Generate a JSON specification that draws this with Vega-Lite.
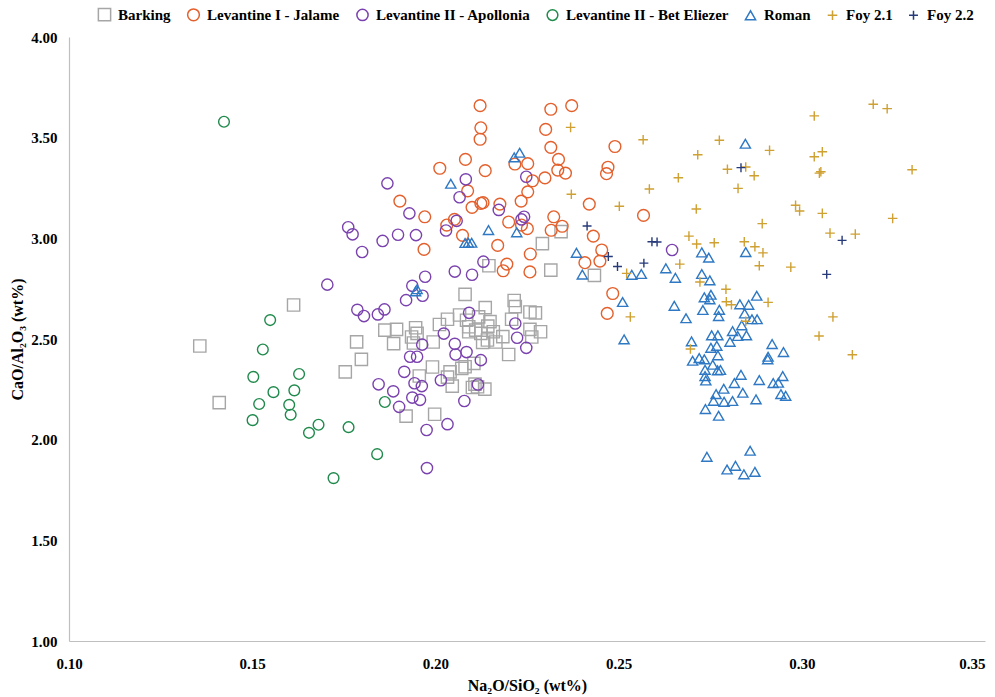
{
  "$schema": "https://vega.github.io/schema/vega-lite/v6.json",
  "width": 916,
  "height": 604,
  "autosize": {"type": "none"},
  "padding": {"left": 69, "top": 37, "right": 10, "bottom": 56},
  "background": "white",
  "config": {
    "view": {"stroke": null},
    "font": "Liberation Serif",
    "axis": {"grid": false, "ticks": false, "domainColor": "#BFBFBF", "domainWidth": 1.2, "labelFont": "Liberation Serif", "labelFontWeight": "bold", "labelFontSize": 15, "labelColor": "#000000", "titleFont": "Liberation Serif", "titleFontWeight": "bold", "titleFontSize": 16, "titleColor": "#000000"}
  },
  "data": {"values": [
    {"g":"Barking","x":0.1357,"y":2.465},{"g":"Barking","x":0.1410,"y":2.184},{"g":"Barking","x":0.1613,"y":2.669},{"g":"Barking","x":0.1754,"y":2.337},{"g":"Barking","x":0.1798,"y":2.399},{"g":"Barking","x":0.1785,"y":2.486},{"g":"Barking","x":0.1862,"y":2.544},{"g":"Barking","x":0.1894,"y":2.548},{"g":"Barking","x":0.1886,"y":2.477},{"g":"Barking","x":0.1946,"y":2.556},{"g":"Barking","x":0.1950,"y":2.528},{"g":"Barking","x":0.1935,"y":2.510},{"g":"Barking","x":0.1940,"y":2.480},{"g":"Barking","x":0.1994,"y":2.485},{"g":"Barking","x":0.2011,"y":2.572},{"g":"Barking","x":0.2033,"y":2.598},{"g":"Barking","x":0.2066,"y":2.619},{"g":"Barking","x":0.2081,"y":2.722},{"g":"Barking","x":0.2085,"y":2.593},{"g":"Barking","x":0.2091,"y":2.561},{"g":"Barking","x":0.2091,"y":2.536},{"g":"Barking","x":0.2110,"y":2.544},{"g":"Barking","x":0.2118,"y":2.610},{"g":"Barking","x":0.2124,"y":2.528},{"g":"Barking","x":0.2129,"y":2.483},{"g":"Barking","x":0.2136,"y":2.656},{"g":"Barking","x":0.2142,"y":2.495},{"g":"Barking","x":0.2143,"y":2.564},{"g":"Barking","x":0.2149,"y":2.586},{"g":"Barking","x":0.2158,"y":2.536},{"g":"Barking","x":0.2165,"y":2.485},{"g":"Barking","x":0.2184,"y":2.512},{"g":"Barking","x":0.2208,"y":2.598},{"g":"Barking","x":0.2215,"y":2.691},{"g":"Barking","x":0.2218,"y":2.661},{"g":"Barking","x":0.2258,"y":2.634},{"g":"Barking","x":0.2273,"y":2.630},{"g":"Barking","x":0.2258,"y":2.548},{"g":"Barking","x":0.2287,"y":2.536},{"g":"Barking","x":0.2263,"y":2.510},{"g":"Barking","x":0.2200,"y":2.423},{"g":"Barking","x":0.1992,"y":2.361},{"g":"Barking","x":0.1956,"y":2.316},{"g":"Barking","x":0.2040,"y":2.337},{"g":"Barking","x":0.2033,"y":2.311},{"g":"Barking","x":0.2072,"y":2.354},{"g":"Barking","x":0.2081,"y":2.362},{"g":"Barking","x":0.2105,"y":2.379},{"g":"Barking","x":0.2046,"y":2.266},{"g":"Barking","x":0.2108,"y":2.276},{"g":"Barking","x":0.2115,"y":2.263},{"g":"Barking","x":0.2135,"y":2.251},{"g":"Barking","x":0.2101,"y":2.259},{"g":"Barking","x":0.1920,"y":2.117},{"g":"Barking","x":0.1998,"y":2.126},{"g":"Barking","x":0.2146,"y":2.864},{"g":"Barking","x":0.2292,"y":2.974},{"g":"Barking","x":0.2315,"y":2.842},{"g":"Barking","x":0.2343,"y":3.033},{"g":"Barking","x":0.2434,"y":2.816},
    {"g":"Levantine I - Jalame","x":0.2122,"y":3.659},{"g":"Levantine I - Jalame","x":0.2315,"y":3.641},{"g":"Levantine I - Jalame","x":0.2372,"y":3.659},{"g":"Levantine I - Jalame","x":0.2124,"y":3.549},{"g":"Levantine I - Jalame","x":0.2122,"y":3.492},{"g":"Levantine I - Jalame","x":0.2301,"y":3.541},{"g":"Levantine I - Jalame","x":0.2315,"y":3.452},{"g":"Levantine I - Jalame","x":0.2490,"y":3.456},{"g":"Levantine I - Jalame","x":0.2082,"y":3.392},{"g":"Levantine I - Jalame","x":0.2012,"y":3.348},{"g":"Levantine I - Jalame","x":0.2217,"y":3.369},{"g":"Levantine I - Jalame","x":0.2252,"y":3.371},{"g":"Levantine I - Jalame","x":0.2336,"y":3.392},{"g":"Levantine I - Jalame","x":0.2334,"y":3.339},{"g":"Levantine I - Jalame","x":0.2355,"y":3.324},{"g":"Levantine I - Jalame","x":0.2136,"y":3.336},{"g":"Levantine I - Jalame","x":0.2299,"y":3.300},{"g":"Levantine I - Jalame","x":0.2265,"y":3.286},{"g":"Levantine I - Jalame","x":0.2471,"y":3.353},{"g":"Levantine I - Jalame","x":0.2467,"y":3.321},{"g":"Levantine I - Jalame","x":0.2252,"y":3.231},{"g":"Levantine I - Jalame","x":0.2088,"y":3.236},{"g":"Levantine I - Jalame","x":0.1903,"y":3.185},{"g":"Levantine I - Jalame","x":0.2234,"y":3.185},{"g":"Levantine I - Jalame","x":0.2130,"y":3.177},{"g":"Levantine I - Jalame","x":0.2124,"y":3.174},{"g":"Levantine I - Jalame","x":0.2176,"y":3.170},{"g":"Levantine I - Jalame","x":0.2100,"y":3.154},{"g":"Levantine I - Jalame","x":0.2420,"y":3.170},{"g":"Levantine I - Jalame","x":0.1971,"y":3.107},{"g":"Levantine I - Jalame","x":0.2323,"y":3.107},{"g":"Levantine I - Jalame","x":0.2052,"y":3.094},{"g":"Levantine I - Jalame","x":0.2031,"y":3.066},{"g":"Levantine I - Jalame","x":0.2200,"y":3.081},{"g":"Levantine I - Jalame","x":0.2235,"y":3.066},{"g":"Levantine I - Jalame","x":0.2251,"y":3.048},{"g":"Levantine I - Jalame","x":0.2316,"y":3.040},{"g":"Levantine I - Jalame","x":0.2346,"y":3.060},{"g":"Levantine I - Jalame","x":0.2074,"y":3.015},{"g":"Levantine I - Jalame","x":0.2431,"y":3.011},{"g":"Levantine I - Jalame","x":0.1969,"y":2.945},{"g":"Levantine I - Jalame","x":0.2170,"y":2.965},{"g":"Levantine I - Jalame","x":0.2259,"y":2.922},{"g":"Levantine I - Jalame","x":0.2454,"y":2.942},{"g":"Levantine I - Jalame","x":0.2449,"y":2.887},{"g":"Levantine I - Jalame","x":0.2408,"y":2.879},{"g":"Levantine I - Jalame","x":0.2195,"y":2.872},{"g":"Levantine I - Jalame","x":0.2185,"y":2.839},{"g":"Levantine I - Jalame","x":0.2258,"y":2.833},{"g":"Levantine I - Jalame","x":0.2484,"y":2.726},{"g":"Levantine I - Jalame","x":0.2469,"y":2.627},{"g":"Levantine I - Jalame","x":0.2568,"y":3.114},
    {"g":"Levantine II - Apollonia","x":0.1869,"y":3.273},{"g":"Levantine II - Apollonia","x":0.2083,"y":3.293},{"g":"Levantine II - Apollonia","x":0.2066,"y":3.204},{"g":"Levantine II - Apollonia","x":0.2248,"y":3.306},{"g":"Levantine II - Apollonia","x":0.1929,"y":3.124},{"g":"Levantine II - Apollonia","x":0.2173,"y":3.141},{"g":"Levantine II - Apollonia","x":0.2058,"y":3.087},{"g":"Levantine II - Apollonia","x":0.2029,"y":3.039},{"g":"Levantine II - Apollonia","x":0.2242,"y":3.107},{"g":"Levantine II - Apollonia","x":0.2235,"y":3.094},{"g":"Levantine II - Apollonia","x":0.1762,"y":3.055},{"g":"Levantine II - Apollonia","x":0.1774,"y":3.020},{"g":"Levantine II - Apollonia","x":0.1898,"y":3.018},{"g":"Levantine II - Apollonia","x":0.1947,"y":3.016},{"g":"Levantine II - Apollonia","x":0.1856,"y":2.987},{"g":"Levantine II - Apollonia","x":0.1800,"y":2.932},{"g":"Levantine II - Apollonia","x":0.2131,"y":2.884},{"g":"Levantine II - Apollonia","x":0.2053,"y":2.835},{"g":"Levantine II - Apollonia","x":0.2100,"y":2.819},{"g":"Levantine II - Apollonia","x":0.1972,"y":2.809},{"g":"Levantine II - Apollonia","x":0.1937,"y":2.764},{"g":"Levantine II - Apollonia","x":0.1965,"y":2.715},{"g":"Levantine II - Apollonia","x":0.1920,"y":2.693},{"g":"Levantine II - Apollonia","x":0.1705,"y":2.770},{"g":"Levantine II - Apollonia","x":0.1787,"y":2.645},{"g":"Levantine II - Apollonia","x":0.1805,"y":2.614},{"g":"Levantine II - Apollonia","x":0.1861,"y":2.647},{"g":"Levantine II - Apollonia","x":0.1843,"y":2.622},{"g":"Levantine II - Apollonia","x":0.2092,"y":2.630},{"g":"Levantine II - Apollonia","x":0.2023,"y":2.527},{"g":"Levantine II - Apollonia","x":0.1964,"y":2.472},{"g":"Levantine II - Apollonia","x":0.2053,"y":2.476},{"g":"Levantine II - Apollonia","x":0.2055,"y":2.423},{"g":"Levantine II - Apollonia","x":0.2085,"y":2.435},{"g":"Levantine II - Apollonia","x":0.2218,"y":2.577},{"g":"Levantine II - Apollonia","x":0.2223,"y":2.506},{"g":"Levantine II - Apollonia","x":0.2248,"y":2.456},{"g":"Levantine II - Apollonia","x":0.1931,"y":2.412},{"g":"Levantine II - Apollonia","x":0.1950,"y":2.412},{"g":"Levantine II - Apollonia","x":0.2124,"y":2.395},{"g":"Levantine II - Apollonia","x":0.1915,"y":2.337},{"g":"Levantine II - Apollonia","x":0.2015,"y":2.295},{"g":"Levantine II - Apollonia","x":0.1943,"y":2.280},{"g":"Levantine II - Apollonia","x":0.1963,"y":2.266},{"g":"Levantine II - Apollonia","x":0.1845,"y":2.275},{"g":"Levantine II - Apollonia","x":0.1885,"y":2.240},{"g":"Levantine II - Apollonia","x":0.2116,"y":2.274},{"g":"Levantine II - Apollonia","x":0.1937,"y":2.209},{"g":"Levantine II - Apollonia","x":0.1958,"y":2.198},{"g":"Levantine II - Apollonia","x":0.1901,"y":2.163},{"g":"Levantine II - Apollonia","x":0.2079,"y":2.192},{"g":"Levantine II - Apollonia","x":0.1976,"y":2.048},{"g":"Levantine II - Apollonia","x":0.2033,"y":2.077},{"g":"Levantine II - Apollonia","x":0.2646,"y":2.942},{"g":"Levantine II - Apollonia","x":0.1977,"y":1.859},
    {"g":"Levantine II - Bet Eliezer","x":0.1423,"y":3.579},{"g":"Levantine II - Bet Eliezer","x":0.1549,"y":2.594},{"g":"Levantine II - Bet Eliezer","x":0.1529,"y":2.448},{"g":"Levantine II - Bet Eliezer","x":0.1503,"y":2.312},{"g":"Levantine II - Bet Eliezer","x":0.1628,"y":2.326},{"g":"Levantine II - Bet Eliezer","x":0.1558,"y":2.236},{"g":"Levantine II - Bet Eliezer","x":0.1615,"y":2.245},{"g":"Levantine II - Bet Eliezer","x":0.1519,"y":2.177},{"g":"Levantine II - Bet Eliezer","x":0.1601,"y":2.173},{"g":"Levantine II - Bet Eliezer","x":0.1605,"y":2.124},{"g":"Levantine II - Bet Eliezer","x":0.1501,"y":2.097},{"g":"Levantine II - Bet Eliezer","x":0.1681,"y":2.074},{"g":"Levantine II - Bet Eliezer","x":0.1655,"y":2.034},{"g":"Levantine II - Bet Eliezer","x":0.1722,"y":1.809},{"g":"Levantine II - Bet Eliezer","x":0.1763,"y":2.062},{"g":"Levantine II - Bet Eliezer","x":0.1841,"y":1.928},{"g":"Levantine II - Bet Eliezer","x":0.1862,"y":2.187},
    {"g":"Roman","x":0.2215,"y":3.402},{"g":"Roman","x":0.2230,"y":3.425},{"g":"Roman","x":0.2042,"y":3.271},{"g":"Roman","x":0.2145,"y":3.041},{"g":"Roman","x":0.2222,"y":3.030},{"g":"Roman","x":0.2081,"y":2.977},{"g":"Roman","x":0.2090,"y":2.978},{"g":"Roman","x":0.2099,"y":2.978},{"g":"Roman","x":0.2385,"y":2.928},{"g":"Roman","x":0.2401,"y":2.820},{"g":"Roman","x":0.2511,"y":2.684},{"g":"Roman","x":0.1950,"y":2.747},{"g":"Roman","x":0.1946,"y":2.737},{"g":"Roman","x":0.2846,"y":3.470},{"g":"Roman","x":0.2536,"y":2.819},{"g":"Roman","x":0.2562,"y":2.823},{"g":"Roman","x":0.2629,"y":2.851},{"g":"Roman","x":0.2655,"y":2.804},{"g":"Roman","x":0.2727,"y":2.930},{"g":"Roman","x":0.2746,"y":2.904},{"g":"Roman","x":0.2847,"y":2.932},{"g":"Roman","x":0.2727,"y":2.823},{"g":"Roman","x":0.2749,"y":2.791},{"g":"Roman","x":0.2652,"y":2.665},{"g":"Roman","x":0.2684,"y":2.603},{"g":"Roman","x":0.2515,"y":2.498},{"g":"Roman","x":0.2877,"y":2.715},{"g":"Roman","x":0.2734,"y":2.707},{"g":"Roman","x":0.2752,"y":2.720},{"g":"Roman","x":0.2749,"y":2.697},{"g":"Roman","x":0.2730,"y":2.644},{"g":"Roman","x":0.2775,"y":2.645},{"g":"Roman","x":0.2773,"y":2.614},{"g":"Roman","x":0.2831,"y":2.672},{"g":"Roman","x":0.2855,"y":2.670},{"g":"Roman","x":0.2844,"y":2.627},{"g":"Roman","x":0.2864,"y":2.598},{"g":"Roman","x":0.2878,"y":2.598},{"g":"Roman","x":0.2836,"y":2.568},{"g":"Roman","x":0.2811,"y":2.539},{"g":"Roman","x":0.2825,"y":2.515},{"g":"Roman","x":0.2849,"y":2.518},{"g":"Roman","x":0.2804,"y":2.486},{"g":"Roman","x":0.2754,"y":2.518},{"g":"Roman","x":0.2771,"y":2.518},{"g":"Roman","x":0.2699,"y":2.488},{"g":"Roman","x":0.2752,"y":2.456},{"g":"Roman","x":0.2768,"y":2.466},{"g":"Roman","x":0.2771,"y":2.419},{"g":"Roman","x":0.2720,"y":2.405},{"g":"Roman","x":0.2734,"y":2.399},{"g":"Roman","x":0.2702,"y":2.392},{"g":"Roman","x":0.2757,"y":2.372},{"g":"Roman","x":0.2736,"y":2.347},{"g":"Roman","x":0.2770,"y":2.344},{"g":"Roman","x":0.2778,"y":2.346},{"g":"Roman","x":0.2736,"y":2.316},{"g":"Roman","x":0.2738,"y":2.294},{"g":"Roman","x":0.2919,"y":2.475},{"g":"Roman","x":0.2950,"y":2.435},{"g":"Roman","x":0.2908,"y":2.412},{"g":"Roman","x":0.2907,"y":2.399},{"g":"Roman","x":0.2834,"y":2.322},{"g":"Roman","x":0.2884,"y":2.296},{"g":"Roman","x":0.2948,"y":2.316},{"g":"Roman","x":0.2922,"y":2.281},{"g":"Roman","x":0.2936,"y":2.283},{"g":"Roman","x":0.2816,"y":2.281},{"g":"Roman","x":0.2787,"y":2.253},{"g":"Roman","x":0.2766,"y":2.226},{"g":"Roman","x":0.2839,"y":2.233},{"g":"Roman","x":0.2759,"y":2.193},{"g":"Roman","x":0.2788,"y":2.188},{"g":"Roman","x":0.2811,"y":2.192},{"g":"Roman","x":0.2875,"y":2.200},{"g":"Roman","x":0.2943,"y":2.226},{"g":"Roman","x":0.2956,"y":2.218},{"g":"Roman","x":0.2737,"y":2.152},{"g":"Roman","x":0.2773,"y":2.119},{"g":"Roman","x":0.2859,"y":1.945},{"g":"Roman","x":0.2741,"y":1.915},{"g":"Roman","x":0.2796,"y":1.852},{"g":"Roman","x":0.2819,"y":1.870},{"g":"Roman","x":0.2842,"y":1.828},{"g":"Roman","x":0.2872,"y":1.840},
    {"g":"Foy 2.1","x":0.2369,"y":3.551},{"g":"Foy 2.1","x":0.2371,"y":3.219},{"g":"Foy 2.1","x":0.2502,"y":3.159},{"g":"Foy 2.1","x":0.2522,"y":2.826},{"g":"Foy 2.1","x":0.2567,"y":3.490},{"g":"Foy 2.1","x":0.2775,"y":3.487},{"g":"Foy 2.1","x":0.2716,"y":3.415},{"g":"Foy 2.1","x":0.2912,"y":3.437},{"g":"Foy 2.1","x":0.2797,"y":3.343},{"g":"Foy 2.1","x":0.2847,"y":3.354},{"g":"Foy 2.1","x":0.2870,"y":3.311},{"g":"Foy 2.1","x":0.2663,"y":3.301},{"g":"Foy 2.1","x":0.2584,"y":3.245},{"g":"Foy 2.1","x":0.2826,"y":3.248},{"g":"Foy 2.1","x":0.2712,"y":3.146},{"g":"Foy 2.1","x":0.2892,"y":3.073},{"g":"Foy 2.1","x":0.2692,"y":3.011},{"g":"Foy 2.1","x":0.2713,"y":2.972},{"g":"Foy 2.1","x":0.2761,"y":2.978},{"g":"Foy 2.1","x":0.2843,"y":2.983},{"g":"Foy 2.1","x":0.2872,"y":2.958},{"g":"Foy 2.1","x":0.2894,"y":2.928},{"g":"Foy 2.1","x":0.2667,"y":2.872},{"g":"Foy 2.1","x":0.2884,"y":2.864},{"g":"Foy 2.1","x":0.2722,"y":2.783},{"g":"Foy 2.1","x":0.2793,"y":2.747},{"g":"Foy 2.1","x":0.2794,"y":2.685},{"g":"Foy 2.1","x":0.2808,"y":2.670},{"g":"Foy 2.1","x":0.2908,"y":2.682},{"g":"Foy 2.1","x":0.2532,"y":2.610},{"g":"Foy 2.1","x":0.2847,"y":2.588},{"g":"Foy 2.1","x":0.2696,"y":2.450},{"g":"Foy 2.1","x":0.3195,"y":3.666},{"g":"Foy 2.1","x":0.3233,"y":3.644},{"g":"Foy 2.1","x":0.3034,"y":3.608},{"g":"Foy 2.1","x":0.3056,"y":3.430},{"g":"Foy 2.1","x":0.3034,"y":3.405},{"g":"Foy 2.1","x":0.3052,"y":3.331},{"g":"Foy 2.1","x":0.3048,"y":3.324},{"g":"Foy 2.1","x":0.3301,"y":3.341},{"g":"Foy 2.1","x":0.2983,"y":3.164},{"g":"Foy 2.1","x":0.2994,"y":3.136},{"g":"Foy 2.1","x":0.3056,"y":3.124},{"g":"Foy 2.1","x":0.3248,"y":3.099},{"g":"Foy 2.1","x":0.3077,"y":3.026},{"g":"Foy 2.1","x":0.3146,"y":3.021},{"g":"Foy 2.1","x":0.2970,"y":2.857},{"g":"Foy 2.1","x":0.3085,"y":2.610},{"g":"Foy 2.1","x":0.3047,"y":2.515},{"g":"Foy 2.1","x":0.3138,"y":2.422},
    {"g":"Foy 2.2","x":0.2414,"y":3.061},{"g":"Foy 2.2","x":0.2472,"y":2.910},{"g":"Foy 2.2","x":0.2497,"y":2.860},{"g":"Foy 2.2","x":0.2569,"y":2.877},{"g":"Foy 2.2","x":0.2591,"y":2.983},{"g":"Foy 2.2","x":0.2605,"y":2.982},{"g":"Foy 2.2","x":0.2834,"y":3.351},{"g":"Foy 2.2","x":0.3068,"y":2.821},{"g":"Foy 2.2","x":0.3110,"y":2.990}
  ]},
  "mark": {"type": "point", "filled": false, "strokeWidth": 1.4, "opacity": 1},
  "encoding": {
    "x": {"field": "x", "type": "quantitative", "scale": {"domain": [0.1, 0.35], "nice": false, "zero": false},
      "axis": {"title": "Na₂O/SiO₂ (wt%)", "values": [0.1, 0.15, 0.2, 0.25, 0.3, 0.35], "format": ".2f", "labelPadding": 15, "titlePadding": 6,
        "labelAlign": {"condition": {"test": "datum.value > 0.349", "value": "right"}, "value": "center"}}},
    "y": {"field": "y", "type": "quantitative", "scale": {"domain": [1, 4], "nice": false, "zero": false},
      "axis": {"title": "CaO/Al₂O₃ (wt%)", "values": [1, 1.5, 2, 2.5, 3, 3.5, 4], "format": ".2f", "labelPadding": 12, "titlePadding": 5}},
    "color": {"field": "g", "type": "nominal",
      "scale": {"domain": ["Barking", "Levantine I - Jalame", "Levantine II - Apollonia", "Levantine II - Bet Eliezer", "Roman", "Foy 2.1", "Foy 2.2"],
        "range": ["#A6A6A6", "#E4602C", "#7A42AE", "#1F8A4C", "#2E78C4", "#CFA032", "#263A7A"]},
      "legend": {"title": null, "orient": "none", "legendX": 28, "legendY": -30, "direction": "horizontal", "padding": 0,
        "labelFont": "Liberation Serif", "labelFontWeight": "bold", "labelFontSize": 15, "labelColor": "#000000", "labelOffset": 6, "columnPadding": 13, "symbolStrokeWidth": 1.5, "labelLimit": 300}},
    "shape": {"field": "g", "type": "nominal",
      "scale": {"domain": ["Barking", "Levantine I - Jalame", "Levantine II - Apollonia", "Levantine II - Bet Eliezer", "Roman", "Foy 2.1", "Foy 2.2"],
        "range": ["square", "circle", "circle", "circle", "triangle-up", "M-1,0H1M0,-1V1", "M-1,0H1M0,-1V1"]}},
    "size": {"field": "g", "type": "nominal",
      "scale": {"domain": ["Barking", "Levantine I - Jalame", "Levantine II - Apollonia", "Levantine II - Bet Eliezer", "Roman", "Foy 2.1", "Foy 2.2"],
        "range": [150, 80, 80, 80, 100, 90, 90]}}
  }
}
